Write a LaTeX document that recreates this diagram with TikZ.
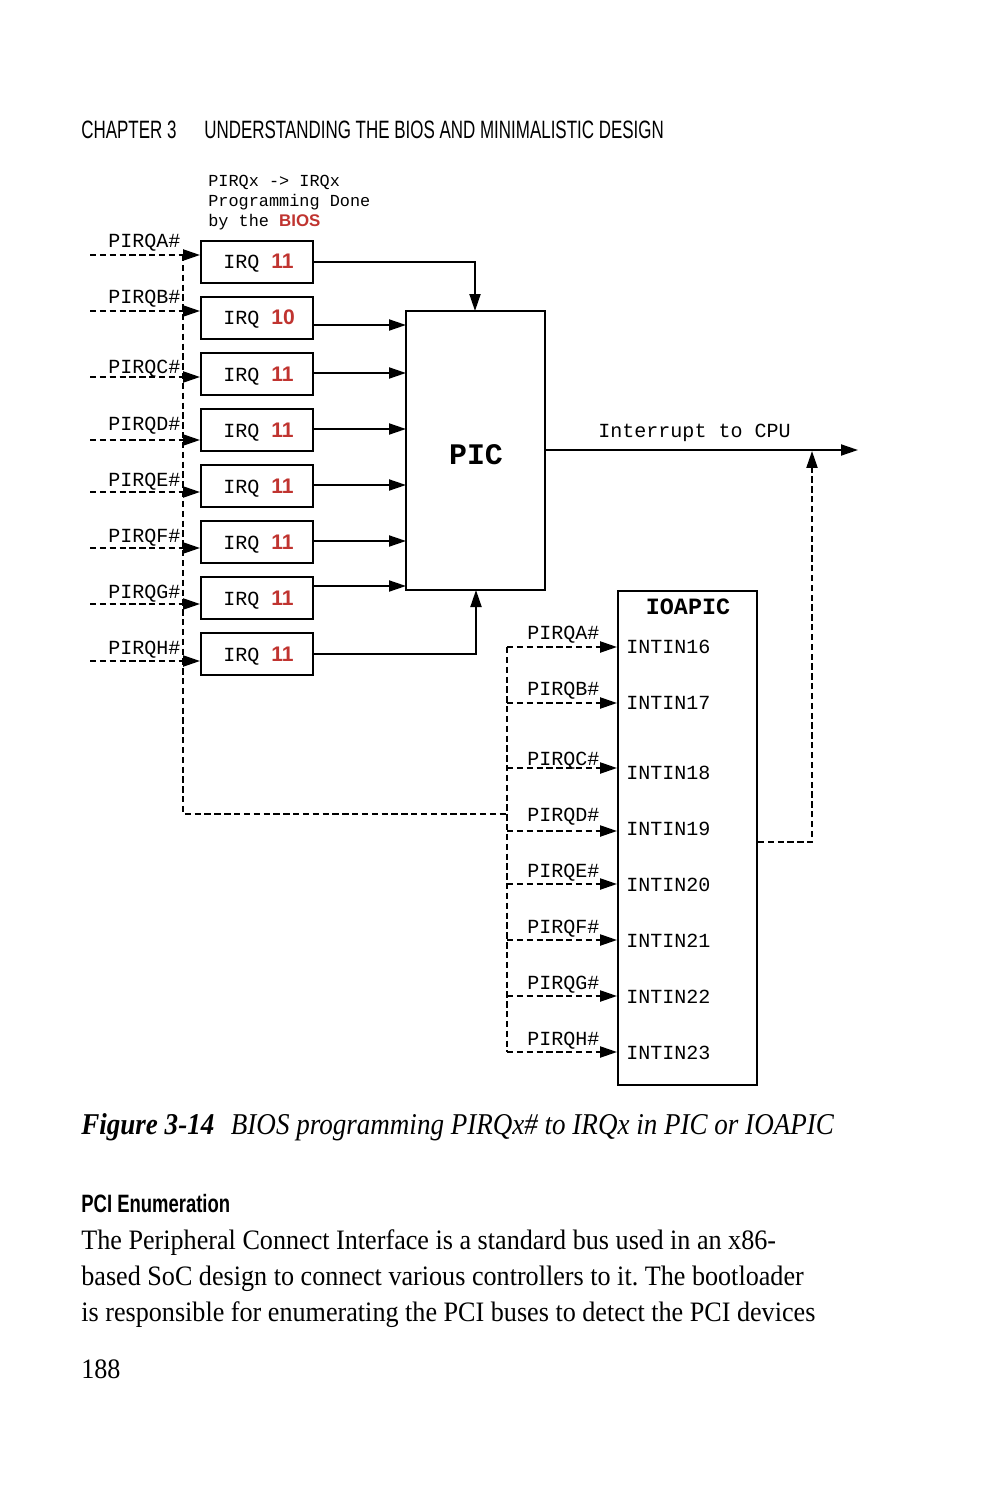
\documentclass[tikz,border=0pt]{standalone}
\usepackage{fontspec}
\setmainfont{Liberation Serif}
\newfontfamily\mono{Liberation Mono}
\newfontfamily\hsans{Liberation Sans}
\newfontfamily\condsans[FakeStretch=0.675]{Liberation Sans}
\newfontfamily\condsansb[FakeStretch=0.735]{Liberation Sans Bold}
\newfontfamily\capserif[FakeStretch=0.895]{Liberation Serif}
\newfontfamily\bodyserif[FakeStretch=0.93]{Liberation Serif}
\usetikzlibrary{arrows.meta}
\definecolor{irqred}{RGB}{192,52,48}
\frenchspacing
\begin{document}
\begin{tikzpicture}[x=0.02cm,y=-0.02cm,
  irqbox/.style={draw,line width=1.1pt,minimum width=2.24cm,minimum height=0.84cm,inner sep=0pt},
  bigbox/.style={draw,line width=1.1pt,inner sep=0pt},
  lbl/.style={anchor=base west,inner sep=0pt,font=\mono\fontsize{11.4}{13}\selectfont},
  nlbl/.style={anchor=base west,inner sep=0pt,font=\mono\fontsize{9.6}{11.4}\selectfont},
  sol/.style={line width=1.1pt},
  dsh/.style={line width=1.25pt,dash pattern=on 3.6pt off 2pt},
  tip/.style={-{Triangle[length=3.4mm,width=2.2mm]}},
  num/.style={text=irqred,font=\hsans\bfseries\fontsize{12}{13}\selectfont}
]
\path[use as bounding box,fill=white] (0,0) rectangle (989,1500);

% header
\node[anchor=base west,inner sep=0pt,font=\condsans\fontsize{14.3}{16}\selectfont] (hd1) at (81,139) {CHAPTER 3};
\node[anchor=base west,inner sep=0pt,font=\condsans\fontsize{14.3}{16}\selectfont] (hd2) at (204,139) {UNDERSTANDING THE BIOS AND MINIMALISTIC DESIGN};

% note
\node[nlbl] (note1) at (208,187) {PIRQx -> IRQx};
\node[nlbl] (note2) at (208,207) {Programming Done};
\node[nlbl] (note3) at (208,227) {by the {\hsans\bfseries\color{irqred}BIOS}};

% IRQ boxes
\foreach \i/\c/\n in {1/262/11,2/318/10,3/374/11,4/430/11,5/486/11,6/542/11,7/598/11,8/654/11}{
  \node[irqbox] (irq\i) at (257,\c) {};
  \node[lbl] (irqt\i) at (223,\c+7) {IRQ};
  \node[anchor=base west,inner sep=0pt,num] (irqn\i) at (271,\c+7) {\n};
}

% left PIRQ labels and dashed arrows
\foreach \i/\L/\y/\b in {1/A/255/248,2/B/311/304,3/C/377/373,4/D/440/430,5/E/492/486,6/F/548/542,7/G/604/598,8/H/661/654}{
  \node[lbl] (lp\i) at (108,\b) {PIRQ\L\#};
  \coordinate (ls\i) at (90,\y);
  \draw[dsh,tip] (ls\i) -- (ls\i -| irq\i.west);
}
\coordinate (vtop) at (183,255);
\coordinate (vbot) at (183,814);
\coordinate (vjoin) at (507,814);
\draw[dsh] (vtop) -- (vbot) -- (vjoin);

% PIC
\node[bigbox,minimum width=2.78cm,minimum height=5.58cm] (pic) at (475.5,450.5) {};
\node[inner sep=0pt,font=\mono\bfseries\fontsize{17}{19}\selectfont] (pict) at (476,455) {PIC};

\draw[sol,tip] (irq1.east) -- (475,262) -- (475,311);
\draw[sol,tip] (irq2.east |- 0,325) -- (406,325);
\draw[sol,tip] (irq3.east |- 0,373) -- (406,373);
\draw[sol,tip] (irq4.east |- 0,429) -- (406,429);
\draw[sol,tip] (irq5.east |- 0,485) -- (406,485);
\draw[sol,tip] (irq6.east |- 0,541) -- (406,541);
\draw[sol,tip] (irq7.east |- 0,586) -- (406,586);
\draw[sol,tip] (irq8.east) -- (476,654) -- (476,590);

% output
\coordinate (cpu) at (858,450);
\draw[sol,tip] (pic.east |- 0,450) -- (cpu);
\node[lbl] (cput) at (598,437) {Interrupt to CPU};

% IOAPIC
\node[bigbox,minimum width=2.78cm,minimum height=9.88cm] (ioapic) at (687.5,838) {};
\node[inner sep=0pt,font=\mono\bfseries\fontsize{13.3}{15}\selectfont] (iot) at (688,607) {IOAPIC};

\foreach \i/\L/\y/\b/\t/\tn in {1/A/647/639/653/16,2/B/703/695/709/17,3/C/768/765/779/18,4/D/831/821/835/19,5/E/884/877/891/20,6/F/940/933/947/21,7/G/996/989/1003/22,8/H/1052/1045/1059/23}{
  \node[lbl] (rp\i) at (527,\b) {PIRQ\L\#};
  \node[lbl] (in\i) at (626,\t) {INTIN\tn};
  \coordinate (rs\i) at (507,\y);
  \draw[dsh,tip] (rs\i) -- (rs\i -| ioapic.west);
}
\draw[dsh] (rs1) -- (rs8);

% IOAPIC to CPU line
\coordinate (ioa) at (812,842);
\draw[dsh,tip] (ioapic.east |- ioa) -- (ioa) -- (812,451);

% caption
\node[anchor=base west,inner sep=0pt,font=\capserif\fontsize{17.2}{20}\selectfont] (cap) at (81,1134)
  {\textbf{\textit{Figure 3-14}}\hspace{0.55em}\textit{BIOS programming PIRQx\# to IRQx in PIC or IOAPIC}};

\node[anchor=base west,inner sep=0pt,font=\condsansb\fontsize{14.3}{16}\selectfont] (sec) at (81,1212) {PCI Enumeration};

\node[anchor=base west,inner sep=0pt,font=\bodyserif\fontsize{16}{19}\selectfont] (b1) at (81,1249) {The Peripheral Connect Interface is a standard bus used in an x86-};
\node[anchor=base west,inner sep=0pt,font=\bodyserif\fontsize{16}{19}\selectfont] (b2) at (81,1285) {based SoC design to connect various controllers to it. The bootloader};
\node[anchor=base west,inner sep=0pt,font=\bodyserif\fontsize{16}{19}\selectfont] (b3) at (81,1321) {is responsible for enumerating the PCI buses to detect the PCI devices};
\node[anchor=base west,inner sep=0pt,font=\bodyserif\fontsize{16}{19}\selectfont] (pg) at (81,1378) {188};
\end{tikzpicture}
\end{document}
